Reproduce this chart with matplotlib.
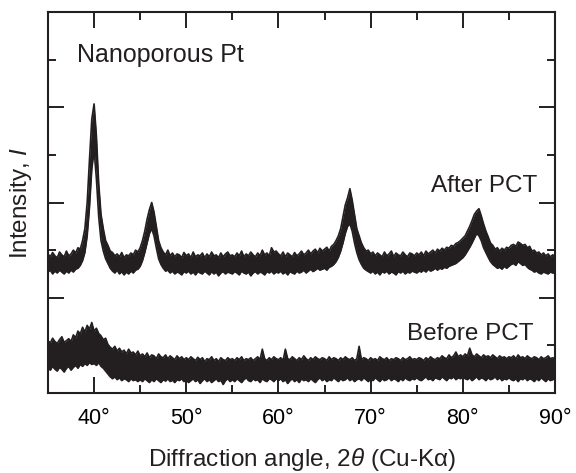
import numpy as np
import matplotlib
matplotlib.use('Agg')
import matplotlib.pyplot as plt
from matplotlib.ticker import MultipleLocator, FixedLocator

plt.rcParams['font.family'] = ['Liberation Sans', 'DejaVu Sans']
plt.rcParams['mathtext.fontset'] = 'custom'
plt.rcParams['mathtext.rm'] = 'Liberation Sans'
plt.rcParams['mathtext.it'] = 'Liberation Sans:italic'

# 2theta scan, 0.25 deg step, 35..90
two_theta = np.arange(35, 90.001, 0.25)

# noisy traces read as upper / lower edge of the band
after_hi = [
    2.92, 2.86, 2.95, 2.88, 2.84, 2.96, 2.90, 2.86, 2.98, 2.88, 2.92, 3.00, 2.94, 3.05, 3.02, 3.20, 3.45, 4.00, 4.90, 5.75,
    6.07, 5.40, 4.40, 3.75, 3.45, 3.20, 3.10, 2.98, 2.95, 2.88, 2.92, 2.86, 2.95, 2.84, 2.90, 2.88, 2.94, 2.90, 3.00, 2.96,
    3.05, 3.20, 3.40, 3.65, 3.85, 4.00, 3.80, 3.50, 3.20, 3.05, 2.96, 2.90, 3.00, 2.88, 2.94, 2.86, 2.92, 2.90, 2.84, 2.95,
    2.88, 2.92, 2.84, 2.96, 2.86, 2.90, 2.88, 2.94, 2.84, 2.92, 2.86, 2.96, 2.88, 2.90, 2.84, 2.94, 2.86, 2.92, 2.96, 2.88,
    2.90, 2.86, 2.94, 2.88, 2.98, 2.86, 2.92, 2.88, 2.96, 2.90, 2.86, 2.94, 2.88, 3.00, 2.90, 2.94, 2.88, 3.05, 2.96, 2.98,
    2.92, 2.88, 2.96, 2.86, 2.94, 2.90, 2.86, 2.95, 2.88, 2.92, 2.98, 2.90, 2.94, 3.00, 2.92, 2.98, 3.02, 2.94, 3.04, 2.98,
    3.02, 3.06, 2.98, 3.08, 3.12, 3.20, 3.30, 3.45, 3.70, 3.95, 4.10, 4.29, 4.05, 3.75, 3.45, 3.30, 3.15, 3.05, 2.98, 3.00,
    2.92, 2.96, 2.88, 2.94, 2.90, 2.86, 2.96, 2.88, 2.92, 2.98, 2.86, 2.94, 2.90, 2.88, 2.96, 2.90, 2.86, 2.94, 2.92, 2.88,
    2.94, 2.90, 2.96, 2.88, 2.98, 2.92, 2.96, 3.00, 2.94, 3.02, 2.98, 3.04, 3.00, 3.06, 3.04, 3.10, 3.08, 3.14, 3.16, 3.20,
    3.25, 3.30, 3.40, 3.50, 3.62, 3.75, 3.82, 3.87, 3.72, 3.55, 3.40, 3.28, 3.15, 3.10, 3.02, 3.05, 2.98, 3.04, 3.00, 3.06,
    3.04, 3.10, 3.12, 3.08, 3.17, 3.14, 3.10, 3.12, 3.05, 3.08, 2.98, 3.00, 2.94, 2.96, 2.90, 2.94, 2.88, 2.92, 2.86, 2.90,
    2.88,
]
after_lo = [
    2.54, 2.58, 2.50, 2.56, 2.52, 2.58, 2.54, 2.50, 2.56, 2.52, 2.58, 2.54, 2.60, 2.62, 2.68, 2.78, 2.95, 3.30, 3.90, 4.70,
    5.10, 4.50, 3.70, 3.20, 2.98, 2.82, 2.72, 2.62, 2.56, 2.52, 2.58, 2.50, 2.55, 2.48, 2.54, 2.50, 2.56, 2.52, 2.58, 2.60,
    2.66, 2.78, 2.95, 3.15, 3.35, 3.45, 3.30, 3.05, 2.82, 2.70, 2.62, 2.56, 2.58, 2.52, 2.56, 2.50, 2.54, 2.52, 2.48, 2.55,
    2.52, 2.56, 2.50, 2.54, 2.48, 2.55, 2.52, 2.50, 2.56, 2.52, 2.48, 2.55, 2.50, 2.54, 2.46, 2.52, 2.55, 2.50, 2.54, 2.52,
    2.50, 2.55, 2.52, 2.48, 2.56, 2.52, 2.50, 2.54, 2.46, 2.52, 2.55, 2.50, 2.54, 2.52, 2.48, 2.55, 2.52, 2.56, 2.50, 2.54,
    2.52, 2.56, 2.50, 2.54, 2.48, 2.55, 2.52, 2.50, 2.56, 2.52, 2.54, 2.58, 2.52, 2.56, 2.60, 2.55, 2.58, 2.62, 2.58, 2.60,
    2.62, 2.58, 2.64, 2.66, 2.70, 2.76, 2.85, 2.98, 3.15, 3.35, 3.50, 3.55, 3.40, 3.15, 2.95, 2.80, 2.70, 2.62, 2.58, 2.55,
    2.52, 2.56, 2.50, 2.54, 2.48, 2.55, 2.52, 2.56, 2.50, 2.54, 2.52, 2.48, 2.55, 2.52, 2.56, 2.50, 2.54, 2.52, 2.56, 2.54,
    2.52, 2.56, 2.54, 2.58, 2.54, 2.60, 2.56, 2.58, 2.62, 2.58, 2.62, 2.60, 2.64, 2.62, 2.66, 2.68, 2.70, 2.72, 2.76, 2.80,
    2.84, 2.90, 2.98, 3.06, 3.15, 3.25, 3.35, 3.30, 3.20, 3.05, 2.95, 2.85, 2.76, 2.70, 2.66, 2.62, 2.64, 2.60, 2.66, 2.62,
    2.66, 2.70, 2.72, 2.68, 2.76, 2.72, 2.68, 2.70, 2.64, 2.60, 2.58, 2.54, 2.56, 2.52, 2.50, 2.54, 2.52, 2.50, 2.54, 2.52,
    2.52,
]

before_hi = [
    1.10, 1.05, 1.15, 1.08, 1.04, 1.12, 1.18, 1.06, 1.10, 1.14, 1.08, 1.22, 1.16, 1.30, 1.24, 1.38, 1.28, 1.42, 1.34, 1.48,
    1.30, 1.36, 1.25, 1.20, 1.12, 1.15, 1.02, 0.96, 0.92, 0.98, 0.88, 0.94, 0.86, 0.90, 0.82, 0.92, 0.84, 0.86, 0.80, 0.88,
    0.78, 0.82, 0.76, 0.84, 0.74, 0.80, 0.78, 0.72, 0.82, 0.76, 0.74, 0.80, 0.72, 0.78, 0.74, 0.70, 0.78, 0.72, 0.76, 0.70,
    0.74, 0.70, 0.76, 0.72, 0.68, 0.75, 0.70, 0.74, 0.66, 0.72, 0.70, 0.76, 0.68, 0.72, 0.66, 0.74, 0.70, 0.68, 0.74, 0.70,
    0.72, 0.68, 0.74, 0.70, 0.76, 0.68, 0.72, 0.70, 0.74, 0.68, 0.72, 0.76, 0.70, 0.92, 0.72, 0.68, 0.74, 0.70, 0.76, 0.72,
    0.70, 0.74, 0.68, 0.92, 0.72, 0.70, 0.76, 0.72, 0.68, 0.74, 0.70, 0.78, 0.72, 0.68, 0.74, 0.70, 0.76, 0.72, 0.70, 0.74,
    0.72, 0.68, 0.76, 0.70, 0.74, 0.72, 0.68, 0.74, 0.70, 0.76, 0.72, 0.70, 0.74, 0.68, 0.72, 0.98, 0.70, 0.74, 0.72, 0.68,
    0.74, 0.70, 0.72, 0.68, 0.76, 0.72, 0.70, 0.74, 0.68, 0.72, 0.70, 0.74, 0.72, 0.68, 0.74, 0.70, 0.72, 0.76, 0.70, 0.72,
    0.70, 0.74, 0.72, 0.68, 0.74, 0.70, 0.76, 0.72, 0.70, 0.74, 0.72, 0.78, 0.74, 0.72, 0.80, 0.74, 0.78, 0.86, 0.76, 0.80,
    0.76, 0.82, 0.78, 0.94, 0.80, 0.76, 0.82, 0.78, 0.74, 0.80, 0.76, 0.78, 0.74, 0.80, 0.76, 0.72, 0.78, 0.74, 0.76, 0.72,
    0.76, 0.74, 0.78, 0.72, 0.80, 0.74, 0.76, 0.72, 0.78, 0.74, 0.72, 0.76, 0.74, 0.70, 0.76, 0.72, 0.74, 0.78, 0.72, 0.74,
    0.72,
]
before_lo = [
    0.52, 0.48, 0.56, 0.50, 0.46, 0.54, 0.50, 0.44, 0.52, 0.56, 0.48, 0.54, 0.58, 0.52, 0.60, 0.56, 0.62, 0.58, 0.64, 0.60,
    0.62, 0.58, 0.64, 0.56, 0.52, 0.46, 0.40, 0.34, 0.30, 0.34, 0.28, 0.32, 0.26, 0.30, 0.28, 0.24, 0.30, 0.26, 0.28, 0.24,
    0.28, 0.24, 0.30, 0.26, 0.22, 0.28, 0.24, 0.30, 0.26, 0.22, 0.28, 0.25, 0.30, 0.24, 0.27, 0.22, 0.28, 0.26, 0.30, 0.24,
    0.27, 0.22, 0.26, 0.30, 0.24, 0.28, 0.20, 0.26, 0.30, 0.24, 0.28, 0.22, 0.26, 0.30, 0.24, 0.27, 0.18, 0.26, 0.30, 0.24,
    0.28, 0.24, 0.30, 0.26, 0.22, 0.28, 0.32, 0.26, 0.24, 0.30, 0.26, 0.28, 0.22, 0.30, 0.26, 0.24, 0.30, 0.28, 0.24, 0.30,
    0.26, 0.30, 0.24, 0.28, 0.20, 0.26, 0.30, 0.24, 0.28, 0.22, 0.30, 0.26, 0.28, 0.24, 0.30, 0.26, 0.22, 0.28, 0.32, 0.26,
    0.30, 0.24, 0.28, 0.26, 0.32, 0.28, 0.24, 0.30, 0.26, 0.28, 0.32, 0.26, 0.30, 0.24, 0.28, 0.30, 0.26, 0.32, 0.28, 0.24,
    0.30, 0.26, 0.32, 0.28, 0.24, 0.30, 0.26, 0.28, 0.32, 0.26, 0.30, 0.28, 0.24, 0.30, 0.26, 0.32, 0.28, 0.26, 0.30, 0.28,
    0.32, 0.28, 0.26, 0.30, 0.34, 0.28, 0.30, 0.26, 0.32, 0.30, 0.28, 0.34, 0.30, 0.26, 0.32, 0.30, 0.34, 0.28, 0.32, 0.30,
    0.34, 0.30, 0.28, 0.32, 0.26, 0.30, 0.34, 0.28, 0.32, 0.30, 0.26, 0.32, 0.28, 0.30, 0.34, 0.28, 0.32, 0.26, 0.30, 0.28,
    0.32, 0.28, 0.26, 0.30, 0.24, 0.30, 0.28, 0.32, 0.26, 0.30, 0.28, 0.24, 0.30, 0.26, 0.32, 0.28, 0.24, 0.30, 0.26, 0.28,
    0.30,
]

x_ticks = [40, 50, 60, 70, 80, 90]
x_labels = ['40°', '50°', '60°', '70°', '80°', '90°']

ink = '#231f20'

fig = plt.figure(figsize=(5.76, 4.73), dpi=100)
ax = fig.add_axes([48/576, 1-393/473, 507/576, 381/473])

for hi, lo in [(after_hi, after_lo), (before_hi, before_lo)]:
    ax.fill_between(two_theta, lo, hi, color=ink, lw=0)
    ax.plot(two_theta, hi, color=ink, lw=1.2)
    ax.plot(two_theta, lo, color=ink, lw=1.2)

ax.set_xlim(35, 90)
ax.set_ylim(0, 8)
ax.set_xticks(x_ticks)
ax.set_xticklabels(x_labels)
ax.xaxis.set_minor_locator(MultipleLocator(5))
ax.yaxis.set_major_locator(FixedLocator([0, 2, 4, 6, 8]))
ax.yaxis.set_minor_locator(FixedLocator([1, 3, 5, 7]))
ax.tick_params(which='both', direction='in', top=True, right=True, width=1.4, color=ink)
ax.tick_params(which='major', length=11.5, labelsize=15.5, pad=11)
ax.tick_params(which='minor', length=5.5)
ax.tick_params(axis='y', which='both', labelleft=False)
for s in ax.spines.values():
    s.set_linewidth(1.5)
    s.set_color(ink)

ax.set_xlabel('Diffraction angle, 2$\\it{\\theta}$ (Cu-Kα)', fontsize=17.5, labelpad=12, color=ink)
ax.set_ylabel('Intensity, $\\it{I}$', fontsize=17.5, labelpad=10, color=ink)

ax.text(0.057, 0.869, 'Nanoporous Pt', transform=ax.transAxes, fontsize=18, color=ink)
ax.text(0.965, 0.527, 'After PCT', transform=ax.transAxes, fontsize=17.5, ha='right', color=ink)
ax.text(0.958, 0.139, 'Before PCT', transform=ax.transAxes, fontsize=17.5, ha='right', color=ink)

fig.savefig('out.png', dpi=100)
